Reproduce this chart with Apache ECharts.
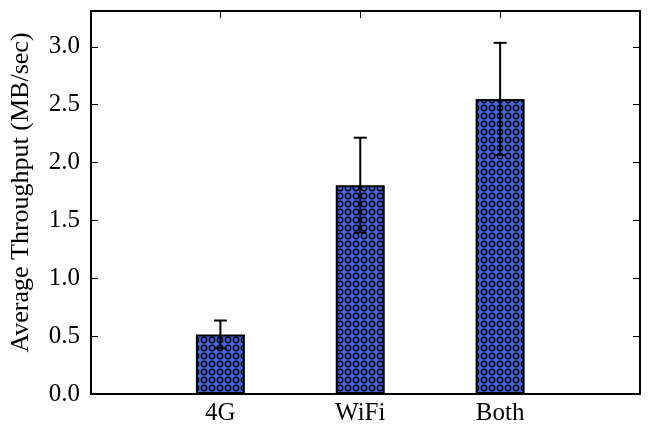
<!DOCTYPE html>
<html>
<head>
<meta charset="utf-8">
<script src="https://cdn.jsdelivr.net/npm/echarts@6/dist/echarts.min.js"></script>
<style>
  html, body { margin: 0; padding: 0; background: #fff; }
  #chart { width: 654px; height: 426px; }
</style>
</head>
<body>
<div id="chart"></div>
<script>
// data
var categories = ['4G', 'WiFi', 'Both'];
var positions = [0, 1, 2];
var throughput = [0.515, 1.805, 2.55];
var errors = [0.12, 0.41, 0.485];
var yTicks = [0, 0.5, 1.0, 1.5, 2.0, 2.5, 3.0];

// blue fill with small black rings, like the 'o' hatch
function makeHatch() {
    var c = document.createElement('canvas');
    c.width = 8;
    c.height = 8;
    var ctx = c.getContext('2d');
    ctx.fillStyle = '#4169e1';
    ctx.fillRect(0, 0, 8, 8);
    ctx.strokeStyle = '#000';
    ctx.lineWidth = 1.4;
    ctx.beginPath();
    ctx.arc(4, 4, 2.7, 0, Math.PI * 2);
    ctx.stroke();
    return c;
}

var font = '"Liberation Serif", "DejaVu Serif", serif';

var barData = [];
var errData = [];
for (var i = 0; i < categories.length; i++) {
    barData.push([positions[i], throughput[i]]);
    errData.push([positions[i], throughput[i] - errors[i], throughput[i] + errors[i]]);
}

var tick = { show: true, inside: true, length: 7, lineStyle: { color: '#000', width: 1 } };

var chart = echarts.init(document.getElementById('chart'));

var option = {
    animation: false,
    grid: {
        left: 91, right: 14, top: 11, bottom: 31,
        show: true,
        borderColor: '#000',
        borderWidth: 2,
        backgroundColor: 'transparent'
    },
    xAxis: [{
        type: 'value',
        min: -0.925,
        max: 3.0,
        position: 'bottom',
        splitLine: { show: false },
        axisLine: { show: false, onZero: false },
        axisTick: Object.assign({ customValues: positions }, tick),
        axisLabel: {
            customValues: positions,
            margin: 7,
            color: '#000',
            fontFamily: font,
            fontSize: 25,
            formatter: function (v) { return categories[Math.round(v)]; }
        }
    }, {
        type: 'value',
        min: -0.925,
        max: 3.0,
        position: 'top',
        splitLine: { show: false },
        axisLine: { show: false, onZero: false },
        axisTick: Object.assign({ customValues: positions }, tick),
        axisLabel: { show: false }
    }],
    yAxis: [{
        type: 'value',
        min: 0,
        max: 3.31,
        position: 'left',
        name: 'Average Throughput (MB/sec)',
        nameLocation: 'middle',
        nameGap: 57,
        nameRotate: 90,
        nameTextStyle: { color: '#000', fontFamily: font, fontSize: 26, padding: [0, 0, 0, 20] },
        splitLine: { show: false },
        axisLine: { show: false, onZero: false },
        axisTick: Object.assign({ customValues: yTicks }, tick),
        axisLabel: {
            customValues: yTicks,
            margin: 11,
            color: '#000',
            fontFamily: font,
            fontSize: 25,
            formatter: function (v) { return v.toFixed(1); }
        }
    }, {
        type: 'value',
        min: 0,
        max: 3.31,
        position: 'right',
        splitLine: { show: false },
        axisLine: { show: false, onZero: false },
        axisTick: Object.assign({ customValues: yTicks }, tick),
        axisLabel: { show: false }
    }],
    series: [{
        type: 'bar',
        data: barData,
        barWidth: 49,
        itemStyle: {
            color: { image: makeHatch(), repeat: 'repeat' },
            borderColor: '#000',
            borderWidth: 2
        },
        z: 2
    }, {
        type: 'custom',
        data: errData,
        z: 5,
        renderItem: function (params, api) {
            var x = api.value(0);
            var lo = api.coord([x, api.value(1)]);
            var hi = api.coord([x, api.value(2)]);
            var cap = 6.5;
            var style = { stroke: '#000', lineWidth: 2 };
            return {
                type: 'group',
                children: [
                    { type: 'line', shape: { x1: lo[0], y1: lo[1], x2: hi[0], y2: hi[1] }, style: style },
                    { type: 'line', shape: { x1: hi[0] - cap, y1: hi[1], x2: hi[0] + cap, y2: hi[1] }, style: style },
                    { type: 'line', shape: { x1: lo[0] - cap, y1: lo[1], x2: lo[0] + cap, y2: lo[1] }, style: style }
                ]
            };
        }
    }]
};

chart.setOption(option);
</script>
</body>
</html>
